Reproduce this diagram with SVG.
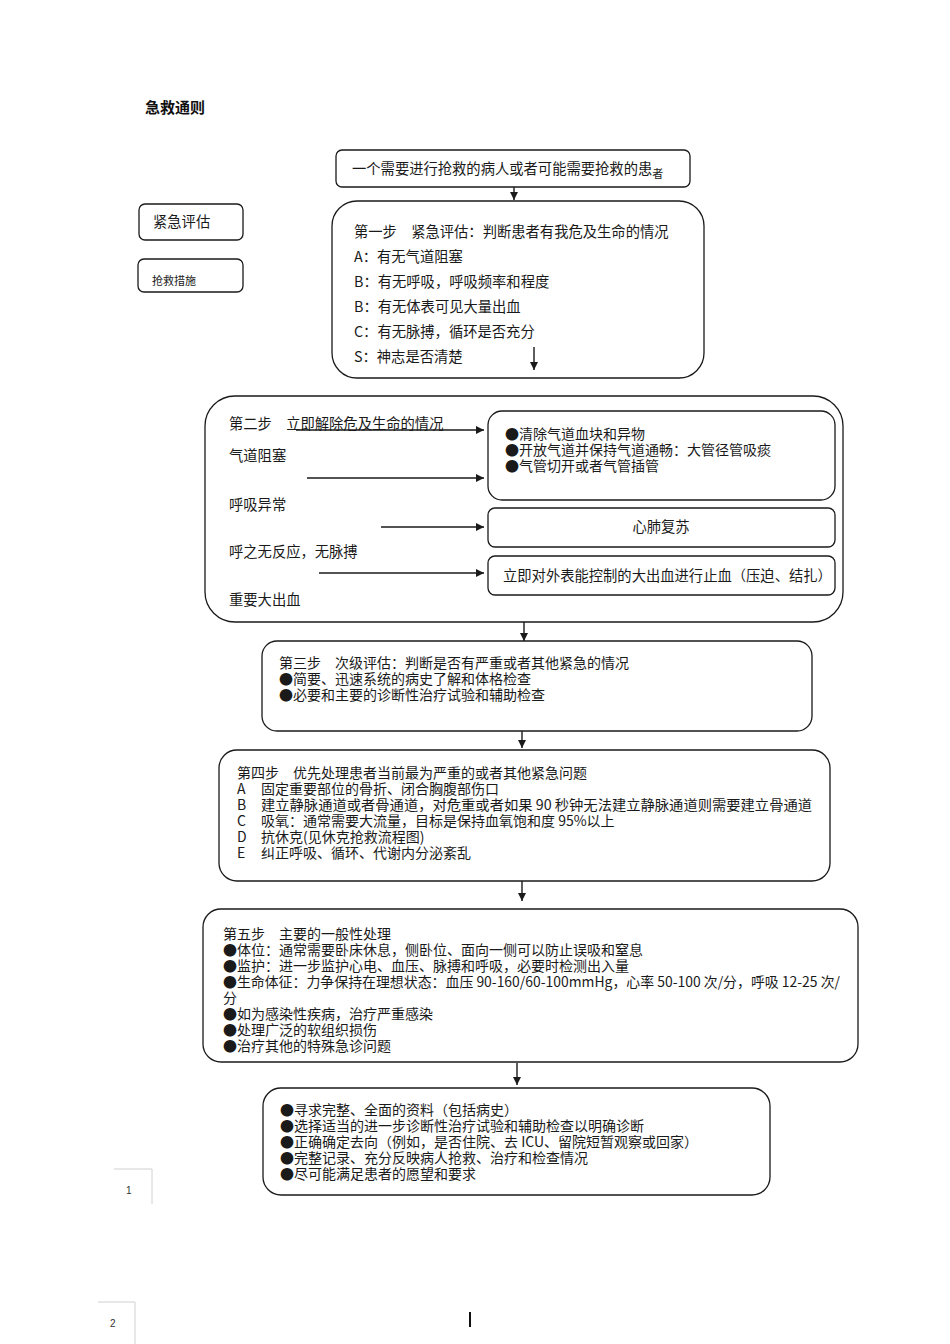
<svg xmlns="http://www.w3.org/2000/svg" width="950" height="1344" viewBox="0 0 950 1344">
<style>
.b{fill:#fff;stroke:#1a1a1a;stroke-width:1.3}
.t{font-family:"Noto Sans CJK SC","Liberation Sans",sans-serif;font-size:14.3px;fill:#1a1a1a}
.s{font-family:"Noto Sans CJK SC","Liberation Sans",sans-serif;font-size:14px;fill:#1a1a1a}
.c{stroke:#1a1a1a;stroke-width:1.4;fill:none}
.g{stroke:#d0d0d0;stroke-width:1;fill:none}
</style>
<defs>
<marker id="ah" viewBox="0 0 10 10" refX="10" refY="5" markerWidth="8" markerHeight="8" markerUnits="userSpaceOnUse" orient="auto">
<path d="M0,0 L10,5 L0,10 z" fill="#1a1a1a"/>
</marker>
</defs>
<rect width="950" height="1344" fill="#fff"/>
<text x="145" y="113" style="font-family:'Noto Sans CJK SC',sans-serif;font-size:15px;font-weight:bold;fill:#111">急救通则</text>

<g id="start">
<rect class="b" x="336" y="150" width="354" height="37" rx="6"/>
<text class="t" x="352" y="174">一个需要进行抢救的病人或者可能需要抢救的患<tspan style="font-size:11px" dy="4">者</tspan></text>
</g>
<g id="legend-assess">
<rect class="b" x="139" y="204" width="104" height="36" rx="6"/>
<text class="t" x="153" y="227">紧急评估</text>
</g>
<g id="legend-rescue">
<rect class="b" x="138" y="259" width="105" height="33" rx="6"/>
<text class="t" x="152" y="285" style="font-size:11px">抢救措施</text>
</g>
<g id="step1">
<rect class="b" x="332" y="201" width="372" height="177" rx="25"/>
<text class="t" x="354" y="237">第一步　紧急评估：判断患者有我危及生命的情况</text>
<text class="t" x="354" y="262">A：有无气道阻塞</text>
<text class="t" x="354" y="287">B：有无呼吸，呼吸频率和程度</text>
<text class="t" x="354" y="312">B：有无体表可见大量出血</text>
<text class="t" x="354" y="337">C：有无脉搏，循环是否充分</text>
<text class="t" x="354" y="362">S：神志是否清楚</text>
</g>
<g id="step2">
<rect class="b" x="205" y="396" width="638" height="226" rx="30"/>
<text class="t" x="229" y="429">第二步　立即解除危及生命的情况</text>
<text class="t" x="229" y="461">气道阻塞</text>
<text class="t" x="229" y="510">呼吸异常</text>
<text class="t" x="229" y="557">呼之无反应，无脉搏</text>
<text class="t" x="229" y="605">重要大出血</text>
</g>
<g id="airway">
<rect class="b" x="488" y="411" width="347" height="89" rx="14"/>
<text class="s"><tspan x="505" y="439">●清除气道血块和异物</tspan><tspan x="505" y="455">●开放气道并保持气道通畅：大管径管吸痰</tspan><tspan x="505" y="471">●气管切开或者气管插管</tspan></text>
</g>
<g id="cpr">
<rect class="b" x="488" y="508" width="347" height="39" rx="7"/>
<text class="t" x="661" y="532" text-anchor="middle">心肺复苏</text>
</g>
<g id="bleed">
<rect class="b" x="488" y="556" width="347" height="39" rx="7"/>
<text class="t" x="503" y="581">立即对外表能控制的大出血进行止血（压迫、结扎）</text>
</g>
<g id="step3">
<rect class="b" x="262" y="641" width="550" height="90" rx="15"/>
<text class="s"><tspan x="279" y="668">第三步　次级评估：判断是否有严重或者其他紧急的情况</tspan><tspan x="279" y="684">●简要、迅速系统的病史了解和体格检查</tspan><tspan x="279" y="700">●必要和主要的诊断性治疗试验和辅助检查</tspan></text>
</g>
<g id="step4">
<rect class="b" x="219" y="750" width="611" height="131" rx="18"/>
<text class="s"><tspan x="237" y="778">第四步　优先处理患者当前最为严重的或者其他紧急问题</tspan><tspan x="237" y="794">A</tspan><tspan x="261" y="794">固定重要部位的骨折、闭合胸腹部伤口</tspan><tspan x="237" y="810">B</tspan><tspan x="261" y="810" textLength="551" lengthAdjust="spacingAndGlyphs">建立静脉通道或者骨通道，对危重或者如果 90 秒钟无法建立静脉通道则需要建立骨通道</tspan><tspan x="237" y="826">C</tspan><tspan x="261" y="826">吸氧：通常需要大流量，目标是保持血氧饱和度 95%以上</tspan><tspan x="237" y="842">D</tspan><tspan x="261" y="842">抗休克(见休克抢救流程图)</tspan><tspan x="237" y="858">E</tspan><tspan x="261" y="858">纠正呼吸、循环、代谢内分泌紊乱</tspan></text>
</g>
<g id="step5">
<rect class="b" x="203" y="909" width="655" height="153" rx="18"/>
<text class="s"><tspan x="223" y="939">第五步　主要的一般性处理</tspan><tspan x="223" y="955">●体位：通常需要卧床休息，侧卧位、面向一侧可以防止误吸和窒息</tspan><tspan x="223" y="971">●监护：进一步监护心电、血压、脉搏和呼吸，必要时检测出入量</tspan><tspan x="223" y="987" textLength="617" lengthAdjust="spacingAndGlyphs">●生命体征：力争保持在理想状态：血压 90-160/60-100mmHg，心率 50-100 次/分，呼吸 12-25 次/</tspan><tspan x="223" y="1003">分</tspan><tspan x="223" y="1019">●如为感染性疾病，治疗严重感染</tspan><tspan x="223" y="1035">●处理广泛的软组织损伤</tspan><tspan x="223" y="1051">●治疗其他的特殊急诊问题</tspan></text>
</g>
<g id="final">
<rect class="b" x="263" y="1088" width="507" height="107" rx="18"/>
<text class="s"><tspan x="280" y="1115">●寻求完整、全面的资料（包括病史）</tspan><tspan x="280" y="1131">●选择适当的进一步诊断性治疗试验和辅助检查以明确诊断</tspan><tspan x="280" y="1147">●正确确定去向（例如，是否住院、去 ICU、留院短暂观察或回家）</tspan><tspan x="280" y="1163">●完整记录、充分反映病人抢救、治疗和检查情况</tspan><tspan x="280" y="1179">●尽可能满足患者的愿望和要求</tspan></text>
</g>

<g id="connectors">
<line class="c" x1="514" y1="187" x2="514" y2="200" marker-end="url(#ah)"/>
<line class="c" x1="534" y1="347" x2="534" y2="370" marker-end="url(#ah)"/>
<line class="c" x1="296" y1="430" x2="484" y2="430" marker-end="url(#ah)"/>
<line class="c" x1="307" y1="478" x2="484" y2="478" marker-end="url(#ah)"/>
<line class="c" x1="381" y1="527" x2="484" y2="527" marker-end="url(#ah)"/>
<line class="c" x1="319" y1="573" x2="484" y2="573" marker-end="url(#ah)"/>
<line class="c" x1="524" y1="622" x2="524" y2="641" marker-end="url(#ah)"/>
<line class="c" x1="522" y1="731" x2="522" y2="748" marker-end="url(#ah)"/>
<line class="c" x1="522" y1="881" x2="522" y2="901" marker-end="url(#ah)"/>
<line class="c" x1="517" y1="1063" x2="517" y2="1085" marker-end="url(#ah)"/>
</g>

<g id="page-marks">
<path class="g" d="M114,1169 H152 V1204"/>
<text x="126" y="1194" style="font-family:'Liberation Sans',sans-serif;font-size:10px;fill:#333">1</text>
<path class="g" d="M98,1302 H135 V1344"/>
<text x="110" y="1327" style="font-family:'Liberation Sans',sans-serif;font-size:10px;fill:#333">2</text>
<line x1="470" y1="1312" x2="470" y2="1327" stroke="#111" stroke-width="2"/>
</g>
</svg>
